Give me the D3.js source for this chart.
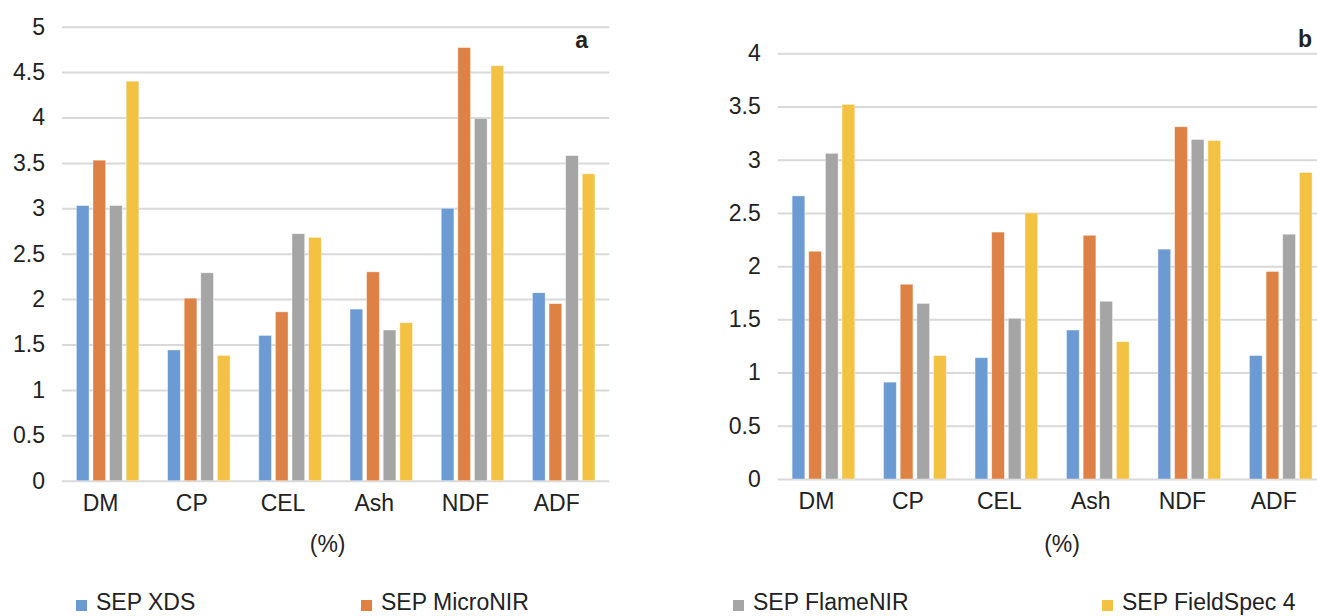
<!DOCTYPE html>
<html>
<head>
<meta charset="utf-8">
<script src="https://cdn.jsdelivr.net/npm/d3@7/dist/d3.min.js"></script>
<style>
  html, body { margin: 0; padding: 0; background: #fff; }
  svg { display: block; }
  text { font-family: "Liberation Sans", Arial, Helvetica, sans-serif; fill: #222; }
</style>
</head>
<body>
<svg id="chart" width="1317" height="616"></svg>
<script>
// ---------- data ----------
const categories = ["DM", "CP", "CEL", "Ash", "NDF", "ADF"];
const seriesNames = ["SEP XDS", "SEP MicroNIR", "SEP FlameNIR", "SEP FieldSpec 4"];
const seriesColors = ["#6B9BD2", "#DE8144", "#A5A5A5", "#F4C243"];

// panel a
const aXDS       = [3.03, 1.44, 1.60, 1.89, 3.00, 2.07];
const aMicroNIR  = [3.53, 2.01, 1.86, 2.30, 4.77, 1.95];
const aFlameNIR  = [3.03, 2.29, 2.72, 1.66, 3.99, 3.58];
const aFieldSpec = [4.40, 1.38, 2.68, 1.74, 4.57, 3.38];
// panel b
const bXDS       = [2.66, 0.91, 1.14, 1.40, 2.16, 1.16];
const bMicroNIR  = [2.14, 1.83, 2.32, 2.29, 3.31, 1.95];
const bFlameNIR  = [3.06, 1.65, 1.51, 1.67, 3.19, 2.30];
const bFieldSpec = [3.52, 1.16, 2.50, 1.29, 3.18, 2.88];

const yTicksA = [0, 0.5, 1, 1.5, 2, 2.5, 3, 3.5, 4, 4.5, 5];
const yTicksB = [0, 0.5, 1, 1.5, 2, 2.5, 3, 3.5, 4];
const xTitle = "(%)";
const panelLabels = ["a", "b"];

// ---------- drawing ----------
const svg = d3.select("#chart");
const FONT = 23;

function drawPanel(cfg) {
  const series = cfg.series;
  const g = svg.append("g");
  const x0 = d3.scaleBand().domain(categories).range([cfg.x0, cfg.x1])
    .paddingInner(0.315).paddingOuter(0.1575);
  const x1 = d3.scaleBand().domain(seriesNames).range([0, x0.bandwidth()]).paddingInner(0.235);
  const y = d3.scaleLinear().domain([0, cfg.ymax]).range([cfg.yBottom, cfg.yTop]);

  // grid + y tick labels
  const yAxis = d3.axisLeft(y).tickValues(cfg.ticks).tickFormat(d3.format(""))
    .tickSize(-(cfg.x1 - cfg.x0)).tickPadding(17);
  const ya = g.append("g").attr("transform", `translate(${cfg.x0},0)`).call(yAxis);
  ya.select(".domain").remove();
  ya.selectAll(".tick line").attr("stroke", "#D9D9D9").attr("stroke-width", 2);
  ya.selectAll(".tick text").attr("font-size", FONT).attr("fill", "#222")
    .style("font-family", "'Liberation Sans', Arial, sans-serif");

  // bars
  const groups = g.append("g").selectAll("g").data(categories).join("g")
    .attr("transform", d => `translate(${x0(d)},0)`);
  groups.selectAll("rect")
    .data((c, ci) => series.map((s, si) => ({ name: seriesNames[si], v: s[ci], color: seriesColors[si] })))
    .join("rect")
    .attr("x", d => x1(d.name))
    .attr("width", x1.bandwidth())
    .attr("y", d => y(d.v))
    .attr("height", d => y(0) - y(d.v))
    .attr("fill", d => d.color)
    .attr("stroke", "rgba(255,255,255,0.5)")
    .attr("stroke-width", 0.8);

  // x axis labels
  const xAxis = d3.axisBottom(x0).tickSize(0).tickPadding(14);
  const xa = g.append("g").attr("transform", `translate(0,${cfg.yBottom})`).call(xAxis);
  xa.select(".domain").remove();
  xa.selectAll(".tick text").attr("font-size", FONT).attr("fill", "#222").attr("dx", -7)
    .style("font-family", "'Liberation Sans', Arial, sans-serif");

  // axis title
  g.append("text").attr("x", (cfg.x0 + cfg.x1) / 2 + cfg.titleShift).attr("y", 552)
    .attr("text-anchor", "middle").attr("font-size", FONT).text(xTitle);

  // panel letter
  g.append("text").attr("x", cfg.letterX).attr("y", cfg.letterY)
    .attr("text-anchor", "end").attr("font-size", 23).attr("font-weight", "bold")
    .attr("fill", "#111").text(cfg.letter);
}

drawPanel({
  series: [aXDS, aMicroNIR, aFlameNIR, aFieldSpec],
  x0: 62, x1: 609.3, yTop: 26.7, yBottom: 480.7, ymax: 5, ticks: yTicksA,
  titleShift: -8, letter: panelLabels[0], letterX: 588, letterY: 48
});
drawPanel({
  series: [bXDS, bMicroNIR, bFlameNIR, bFieldSpec],
  x0: 777.7, x1: 1326.5, yTop: 53.3, yBottom: 479, ymax: 4, ticks: yTicksB,
  titleShift: 10, letter: panelLabels[1], letterX: 1312, letterY: 47
});

// legend
const legendX = [76, 361, 733, 1102];
const legend = svg.append("g").selectAll("g").data(seriesNames).join("g")
  .attr("transform", (d, i) => `translate(${legendX[i]},610)`);
legend.append("rect").attr("x", 0).attr("y", -10).attr("width", 11).attr("height", 11)
  .attr("fill", (d, i) => seriesColors[i]);
legend.append("text").attr("x", 20).attr("y", 0).attr("font-size", FONT).text(d => d);
</script>
</body>
</html>
